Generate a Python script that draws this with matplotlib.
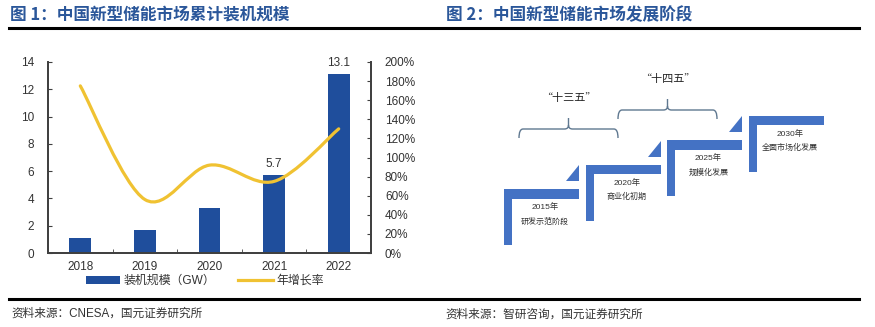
import matplotlib.pyplot as plt
from matplotlib.path import Path
from matplotlib.patches import PathPatch, Polygon, Patch
from matplotlib.lines import Line2D
from matplotlib.ticker import PercentFormatter

plt.rcParams['font.family'] = ['Liberation Sans', 'Noto Sans CJK SC']

# chart 1 data
years = ['2018', '2019', '2020', '2021', '2022']
capacity = [1.1, 1.7, 3.3, 5.7, 13.1]       # GW
growth = [1.75, 0.56, 0.92, 0.75, 1.30]      # yearly growth
labelled = [3, 4]                            # bars with a value label

# chart 2 data
stage_years = ['2015年', '2020年', '2025年', '2030年']
stage_names = ['研发示范阶段', '商业化初期', '规模化发展', '全面市场化发展']
plans = ['“十三五”', '“十四五”']

title1 = '图 1：中国新型储能市场累计装机规模'
title2 = '图 2：中国新型储能市场发展阶段'
source1 = '资料来源：CNESA，国元证券研究所'
source2 = '资料来源：智研咨询，国元证券研究所'

BLUE = '#1f4e9c'
GOLD = '#f0c232'
STEP = '#4472c4'
TITLE = '#2b579a'
DARK = '#333333'


def smooth_path(xs, ys):
    # excel-like smoothed line as bezier segments through the points
    verts = [(xs[0], ys[0])]
    codes = [Path.MOVETO]
    n = len(xs)
    for i in range(n - 1):
        a = max(i - 1, 0)
        b = min(i + 2, n - 1)
        c1 = (xs[i] + (xs[i + 1] - xs[a]) / 6, ys[i] + (ys[i + 1] - ys[a]) / 6)
        c2 = (xs[i + 1] - (xs[b] - xs[i]) / 6, ys[i + 1] - (ys[b] - ys[i]) / 6)
        verts += [c1, c2, (xs[i + 1], ys[i + 1])]
        codes += [Path.CURVE4] * 3
    return Path(verts, codes)


fig = plt.figure(figsize=(8.75, 3.27), dpi=100)

# overlay in pixel coordinates for rules, titles and the stage diagram
ov = fig.add_axes([0, 0, 1, 1])
ov.set_xlim(0, 875)
ov.set_ylim(327, 0)
ov.axis('off')

ov.plot([9, 859], [27.5, 27.5], color='black', lw=2.2)
ov.plot([9, 859], [298.5, 298.5], color='black', lw=2.2)
ov.text(10, 15, title1, fontsize=12, fontweight='bold', color=TITLE,
        va='center', family=['Noto Sans CJK SC'])
ov.text(446, 15, title2, fontsize=12, fontweight='bold', color=TITLE,
        va='center', family=['Noto Sans CJK SC'])
ov.text(11, 314, source1, fontsize=8.4, color=DARK, va='center')
ov.text(445, 314, source2, fontsize=8.4, color=DARK, va='center',
        family=['Noto Sans CJK SC'])

# stage steps
x0, y0, dx, dy = 504, 189, 81.7, -24.4
for i, (yr, name) in enumerate(zip(stage_years, stage_names)):
    x = x0 + i * dx
    y = y0 + i * dy
    ov.add_patch(Polygon([(x, y), (x + 75, y), (x + 75, y + 9.5), (x + 8, y + 9.5),
                          (x + 8, y + 56), (x, y + 56)], closed=True,
                         facecolor=STEP, edgecolor='none'))
    if i < len(stage_years) - 1:
        ov.add_patch(Polygon([(x + 62, y - 8), (x + 75, y - 8), (x + 75, y - 24)],
                             closed=True, facecolor=STEP, edgecolor='none'))
    ov.text(x + 41, y + 18, yr, fontsize=6, color=DARK, ha='center', va='center')
    ov.text(x + 41, y + 32, name, fontsize=5.8, color=DARK, ha='center', va='center',
            family=['Noto Sans CJK SC'])

# braces for the five-year plans
bx, by, bw = 519, 129, 99
for j, plan in enumerate(plans):
    xl = bx + j * bw
    xr = xl + bw
    xc = (xl + xr) / 2
    yh = by - j * 19
    r = 4
    verts = [(xl, yh + 9), (xl, yh), (xl + r, yh), (xc - r, yh), (xc, yh), (xc, yh - r),
             (xc, yh - 11),
             (xc, yh - r), (xc, yh), (xc + r, yh), (xr - r, yh), (xr, yh), (xr, yh + 9)]
    codes = [Path.MOVETO, Path.CURVE3, Path.CURVE3, Path.LINETO, Path.CURVE3, Path.CURVE3,
             Path.LINETO,
             Path.MOVETO, Path.CURVE3, Path.CURVE3, Path.LINETO, Path.CURVE3, Path.CURVE3]
    ov.add_patch(PathPatch(Path(verts, codes), fill=False, edgecolor='#5f7890', lw=1))
    ov.text(xc, yh - 31, plan, fontsize=8, color='#222222', ha='center', va='center',
            family=['Noto Sans CJK SC'])

# chart 1
ax = fig.add_axes([48 / 875, 74 / 327, 323 / 875, 191 / 327])
pos = list(range(len(years)))
ax.bar(pos, capacity, width=0.34, color=BLUE, zorder=2)
for i in labelled:
    ax.annotate(f'{capacity[i]}', (pos[i], capacity[i]), xytext=(0, 4),
                textcoords='offset points', ha='center', va='bottom',
                fontsize=8.5, color=DARK)
ax.set_xlim(-0.5, len(years) - 0.5)
ax.set_ylim(0, 14)
ax.set_yticks(range(0, 15, 2))
ax.set_xticks(pos)
ax.set_xticklabels(years)
ax.set_xticks([p + 0.5 for p in pos[:-1]], minor=True)
ax.tick_params(axis='x', which='major', length=0, labelsize=8.5, colors=DARK, pad=6)
ax.tick_params(axis='x', which='minor', direction='in', length=3, color='#404040')
ax.tick_params(axis='y', direction='in', length=3, labelsize=8.5, colors=DARK,
               color='#404040', pad=10)
ax.spines['top'].set_visible(False)
for s in ['left', 'bottom', 'right']:
    ax.spines[s].set_color('#404040')
    ax.spines[s].set_linewidth(1.3)

ax2 = ax.twinx()
ax2.set_ylim(0, 2)
ax2.set_yticks([k / 10 for k in range(0, 21, 2)])
ax2.yaxis.set_major_formatter(PercentFormatter(1.0, decimals=0))
ax2.tick_params(axis='y', direction='in', length=3, labelsize=8.5, colors=DARK,
                color='#404040', pad=10)
ax2.spines['top'].set_visible(False)
for s in ['left', 'bottom', 'right']:
    ax2.spines[s].set_color('#404040')
    ax2.spines[s].set_linewidth(1.3)
ax2.add_patch(PathPatch(smooth_path(pos, growth), fill=False, edgecolor=GOLD, lw=2.3,
                        capstyle='round', zorder=3))

handles = [Patch(facecolor=BLUE, edgecolor='none'), Line2D([], [], color=GOLD, lw=2.3)]
fig.legend(handles, ['装机规模（GW）', '年增长率'], loc='center',
           bbox_to_anchor=(205 / 875, 1 - 281 / 327), ncol=2, frameon=False,
           fontsize=8.6, handlelength=2.9, handletextpad=0.3, columnspacing=1.9,
           labelcolor=DARK)

fig.savefig('out.png', dpi=100)
